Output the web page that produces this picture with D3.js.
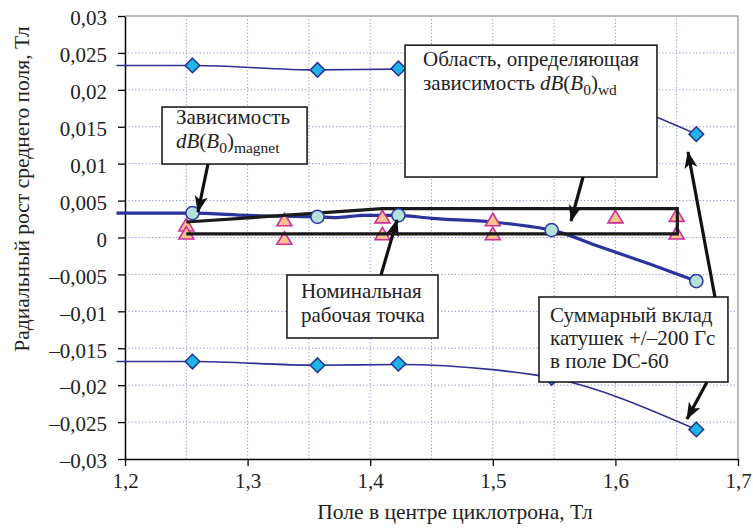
<!DOCTYPE html>
<html>
<head>
<meta charset="utf-8">
<script src="https://cdn.jsdelivr.net/npm/d3@7"></script>
<style>
  html, body { margin: 0; padding: 0; background: #fff; }
</style>
</head>
<body>
<svg id="chart" width="753" height="529"></svg>
<script>
// Axis ranges and ticks
const xDomain = [1.2, 1.7];
const yDomain = [-0.03, 0.03];
const xTicks = [1.2, 1.3, 1.4, 1.5, 1.6, 1.7];
const xTickLabels = ["1,2", "1,3", "1,4", "1,5", "1,6", "1,7"];
const yTicks = [-0.03, -0.025, -0.02, -0.015, -0.01, -0.005, 0, 0.005, 0.01, 0.015, 0.02, 0.025, 0.03];
const yTickLabels = ["–0,03", "–0,025", "–0,02", "–0,015", "–0,01", "–0,005", "0", "0,005", "0,01", "0,015", "0,02", "0,025", "0,03"];
const xGrid = [1.25, 1.3, 1.35, 1.4, 1.45, 1.5, 1.55, 1.6, 1.65];
const yGrid = [-0.025, -0.02, -0.015, -0.01, -0.005, 0, 0.005, 0.01, 0.015, 0.02, 0.025];

const xTitle = "Поле в центре циклотрона, Тл";
const yTitle = "Радиальный рост среднего поля, Тл";

// Measured points: dB(B0)magnet (circles) and the ±200 Гс envelope (diamonds)
const B0 = [1.255, 1.357, 1.423, 1.548, 1.666];
const magnetDB = [0.0033, 0.0028, 0.0030, 0.0010, -0.0059];
const upperDB = [0.0233, 0.0227, 0.0229, 0.0210, 0.0140];
const lowerDB = [-0.0168, -0.0173, -0.0171, -0.0190, -0.0260];

// Smooth traces through the series
const magnetCurveB0 = [1.193, 1.255, 1.30, 1.357, 1.373, 1.395, 1.423, 1.45, 1.50, 1.53, 1.548, 1.588, 1.628, 1.666];
const magnetCurveDB = [0.0033, 0.0033, 0.0030, 0.0028, 0.0027, 0.0030, 0.0030, 0.0026, 0.0021, 0.0015, 0.0010, -0.0013, -0.0036, -0.0059];
const upperCurveB0 = [1.193, 1.255, 1.357, 1.423, 1.50, 1.548, 1.666];
const upperCurveDB = [0.0233, 0.0233, 0.0227, 0.0228, 0.0221, 0.0210, 0.0140];
const lowerCurveB0 = [1.193, 1.255, 1.357, 1.423, 1.50, 1.548, 1.666];
const lowerCurveDB = [-0.0168, -0.0168, -0.0173, -0.0172, -0.0179, -0.0190, -0.0260];

// dB(B0)wd points (triangles)
const wdB0 = [1.25, 1.25, 1.33, 1.33, 1.41, 1.41, 1.50, 1.50, 1.60, 1.65, 1.65];
const wdDB = [0.0017, 0.0006, 0.0024, -0.0001, 0.0028, 0.0005, 0.0024, 0.0005, 0.0028, 0.0030, 0.0006];

// Outline of the region that defines dB(B0)wd
const regionB0 = [1.25, 1.41, 1.6505, 1.6505, 1.25];
const regionDB = [0.0021, 0.0039, 0.0039, 0.0005, 0.0005];

// Callout boxes (axis units) and their text lines
const callouts = [
  { x0: 1.2302, x1: 1.3485, y0: 0.01767, y1: 0.00995, lines: ["Зависимость", "magnet"] },
  { x0: 1.4284, x1: 1.6339, y0: 0.02605, y1: 0.00819, lines: ["Область, определяющая", "wd"] },
  { x0: 1.3321, x1: 1.4553, y0: -0.00508, y1: -0.01361, lines: ["Номинальная", "рабочая точка"] },
  { x0: 1.5377, x1: 1.6918, y0: -0.00806, y1: -0.01957, lines: ["Суммарный вклад", "катушек +/–200 Гс", "в поле DC-60"] }
];
// Callout arrows: [fromB0, fromDB, toB0, toDB]
const arrows = [
  [1.2677, 0.00995, 1.2595, 0.00345],
  [1.5736, 0.00819, 1.5638, 0.00223],
  [1.4088, -0.00508, 1.4219, 0.00237],
  [1.6812, -0.00806, 1.6592, 0.01158],
  [1.6747, -0.01957, 1.6584, -0.02458]
];

const FONT = "Liberation Serif";
const INK = "#222";

const svg = d3.select("#chart");
const x = d3.scaleLinear().domain(xDomain).range([125, 738]);
const y = d3.scaleLinear().domain(yDomain).range([459, 16]);

// Grid
const grid = svg.append("g");
grid.selectAll("line.h").data(yGrid).join("line")
  .attr("x1", x(xDomain[0])).attr("x2", x(xDomain[1]))
  .attr("y1", d => y(d)).attr("y2", d => y(d))
  .attr("stroke", "#8d8fd6").attr("stroke-width", 1).attr("stroke-dasharray", "1.2,2.2");
grid.selectAll("line.v").data(xGrid).join("line")
  .attr("y1", y(yDomain[0])).attr("y2", y(yDomain[1]))
  .attr("x1", d => x(d)).attr("x2", d => x(d))
  .attr("stroke", "#8d8fd6").attr("stroke-width", 1).attr("stroke-dasharray", "1.2,2.2");
// Plot-area frame (top and right)
svg.append("path")
  .attr("d", `M${x(xDomain[0])},${y(yDomain[1])}H${x(xDomain[1])}V${y(yDomain[0])}`)
  .attr("fill", "none").attr("stroke", "#a6a6a6").attr("stroke-width", 1.5);

// Axes
const xAxis = d3.axisBottom(x).tickValues(xTicks).tickSize(7).tickSizeOuter(0)
  .tickFormat((d, i) => xTickLabels[i]);
const yAxis = d3.axisLeft(y).tickValues(yTicks).tickSize(7).tickSizeOuter(0)
  .tickFormat((d, i) => yTickLabels[i]);
const gx = svg.append("g").attr("transform", `translate(0,${y(yDomain[0])})`).call(xAxis);
const gy = svg.append("g").attr("transform", `translate(${x(xDomain[0])},0)`).call(yAxis);
[gx, gy].forEach(g => {
  g.attr("font-family", FONT).attr("font-size", 21);
  g.select(".domain").attr("stroke", "#000").attr("stroke-width", 1.5);
  g.selectAll(".tick line").attr("stroke", "#000").attr("stroke-width", 1.3);
  g.selectAll(".tick text").attr("fill", INK);
});
gx.selectAll(".tick text").attr("y", 29).attr("dy", 0);
gy.selectAll(".tick text").attr("x", -18).attr("dy", "0.42em");

// Axis titles
svg.append("text").attr("x", 455).attr("y", 519).attr("text-anchor", "middle")
  .attr("font-size", 21.5).attr("font-family", FONT).attr("fill", INK).text(xTitle);
svg.append("text").attr("transform", "translate(28.5,189) rotate(-90)").attr("text-anchor", "middle")
  .attr("font-size", 21.5).attr("font-family", FONT).attr("fill", INK).text(yTitle);

const line = (xs, ys, curve) => d3.line().x((d, i) => x(xs[i])).y((d, i) => y(ys[i])).curve(curve)(xs);

// Envelope traces
svg.append("path").attr("d", line(upperCurveB0, upperCurveDB, d3.curveMonotoneX))
  .attr("fill", "none").attr("stroke", "#2e3192").attr("stroke-width", 1.6);
svg.append("path").attr("d", line(lowerCurveB0, lowerCurveDB, d3.curveMonotoneX))
  .attr("fill", "none").attr("stroke", "#2e3192").attr("stroke-width", 1.6);
// dB(B0)magnet trace
svg.append("path").attr("d", line(magnetCurveB0, magnetCurveDB, d3.curveMonotoneX))
  .attr("fill", "none").attr("stroke", "#2b339c").attr("stroke-width", 3.2);

// Triangles
const tri = "M0,-6.5L7.5,6L-7.5,6Z";
svg.append("g").selectAll("path").data(wdB0).join("path")
  .attr("d", tri)
  .attr("transform", (d, i) => `translate(${x(d)},${y(wdDB[i])})`)
  .attr("fill", "#f7c38f").attr("stroke", "#cf2f98").attr("stroke-width", 1.6);

// Region outline
svg.append("path").attr("d", line(regionB0, regionDB, d3.curveLinear))
  .attr("fill", "none").attr("stroke", "#1a1a1a").attr("stroke-width", 3.2);

// Circles
svg.append("g").selectAll("circle").data(B0).join("circle")
  .attr("cx", d => x(d)).attr("cy", (d, i) => y(magnetDB[i])).attr("r", 6.6)
  .attr("fill", "#b5dfd9").attr("stroke", "#2b3a9c").attr("stroke-width", 1.5);

// Diamonds
const dia = "M0,-7.3L7.3,0L0,7.3L-7.3,0Z";
svg.append("g").selectAll("path").data(B0.concat(B0)).join("path")
  .attr("d", dia)
  .attr("transform", (d, i) => `translate(${x(d)},${y(i < B0.length ? upperDB[i] : lowerDB[i - B0.length])})`)
  .attr("fill", "#1eb6e6").attr("stroke", "#27318f").attr("stroke-width", 1.5);

// Arrowhead
svg.append("defs").append("marker")
  .attr("id", "head").attr("markerUnits", "userSpaceOnUse")
  .attr("viewBox", "0 -8 18 16").attr("refX", 16).attr("refY", 0)
  .attr("markerWidth", 18).attr("markerHeight", 16).attr("orient", "auto")
  .append("path").attr("d", "M0,-6.5L17,0L0,6.5L4,0Z").attr("fill", "#111");

// Callouts
const box = svg.append("g").attr("font-family", FONT).attr("font-size", 21).attr("fill", INK);
callouts.forEach(c => {
  const bx = x(c.x0), by = y(c.y0), bw = x(c.x1) - x(c.x0), bh = y(c.y1) - y(c.y0);
  box.append("rect").attr("x", bx).attr("y", by).attr("width", bw).attr("height", bh)
    .attr("fill", "#fff").attr("stroke", "#1e1e1e").attr("stroke-width", 1.6);
});
arrows.forEach(a => {
  box.append("line").attr("x1", x(a[0])).attr("y1", y(a[1])).attr("x2", x(a[2])).attr("y2", y(a[3]))
    .attr("stroke", "#111").attr("stroke-width", 3.2).attr("marker-end", "url(#head)");
});

function label(px, py) {
  return box.append("text").attr("x", px).attr("y", py);
}
// dB(B0) with a subscript tag
function formula(t, sub) {
  t.append("tspan").attr("font-style", "italic").text("dB");
  t.append("tspan").text("(");
  t.append("tspan").attr("font-style", "italic").text("B");
  t.append("tspan").attr("font-size", 15.5).attr("dy", 5).text("0");
  t.append("tspan").attr("dy", -5).text(")");
  t.append("tspan").attr("font-size", 15.5).attr("dy", 5).text(sub);
}

// Box 1
{
  const c = callouts[0], lx = x(c.x0) + 14;
  label(lx, y(c.y0) + 17).text(c.lines[0]);
  formula(label(lx, y(c.y0) + 41), c.lines[1]);
}
// Box 2
{
  const c = callouts[1], lx = x(c.x0) + 18;
  label(lx, y(c.y0) + 20.5).text(c.lines[0]);
  const t = label(lx, y(c.y0) + 44.5);
  t.append("tspan").text("зависимость ");
  formula(t, c.lines[1]);
}
// Boxes 3 and 4
[[2, 14, 23, 23.7], [3, 11, 24.5, 23.2]].forEach(([k, pad, first, step]) => {
  const c = callouts[k];
  c.lines.forEach((ln, j) => label(x(c.x0) + pad, y(c.y0) + first + j * step).text(ln));
});
</script>
</body>
</html>
